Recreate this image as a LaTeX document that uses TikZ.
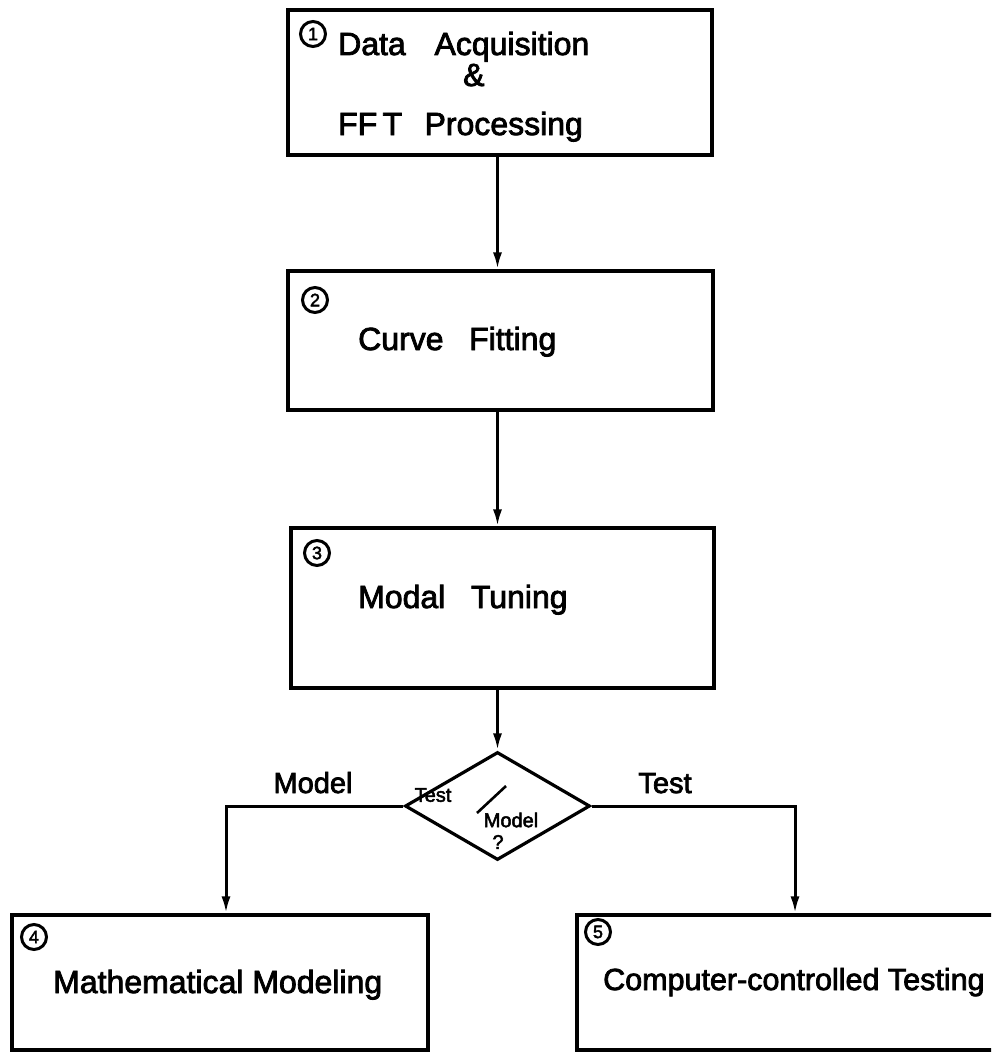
\documentclass[tikz,border=0pt]{standalone}
\usepackage{fontspec}
\setmainfont{Liberation Sans}[BoldFont={Liberation Sans},BoldFeatures={FakeBold=2.5}]
\usetikzlibrary{shapes.geometric,arrows.meta}
\begin{document}
\begin{tikzpicture}[x=1pt,y=-1pt,
  box/.style={draw,line width=3.2pt,inner sep=0pt},
  arr/.style={line width=3pt,-{Latex[length=17pt,width=9pt]}},
  lbl/.style={anchor=base west,inner sep=0pt,font=\fontsize{32}{36}\selectfont\bfseries},
  circ/.style={circle,draw,line width=3pt,minimum size=25pt,inner sep=0pt,font=\fontsize{18}{18}\selectfont\bfseries},
  small/.style={inner sep=0pt,font=\fontsize{20}{20}\selectfont\bfseries}]
\useasboundingbox (0,0) rectangle (991,1057);
\clip (0,0) rectangle (991,1057);
% boxes
\node[box,minimum width=424pt,minimum height=145pt] (b1) at (500,82.5) {};
\node[box,minimum width=425pt,minimum height=139pt] (b2) at (500.5,340.5) {};
\node[box,minimum width=423pt,minimum height=160pt] (b3) at (502.5,608) {};
\node[draw,shape=diamond,line width=3.2pt,inner sep=0pt,minimum width=185pt,minimum height=108pt] (d) at (497.5,806) {};
\node[box,minimum width=416pt,minimum height=135pt] (b4) at (220,982.5) {};
\node[box,minimum width=430pt,minimum height=135pt] (b5) at (792,982.5) {};
% circled numbers
\node[circ] (n1) at (313,34) {1};
\node[circ] (n2) at (315,300) {2};
\node[circ] (n3) at (317,553) {3};
\node[circ] (n4) at (34,937) {4};
\node[circ] (n5) at (598,932) {5};
% texts
\node[lbl] (t1a) at (338,55) {Data\hspace{0.9em}Acquisition};
\node[lbl] (t1b) at (463,86) {\&};
\node[lbl] (t1c) at (338,135) {FF\,T\hspace{0.7em}Processing};
\node[lbl] (t2) at (358,350) {Curve\hspace{0.8em}Fitting};
\node[lbl] (t3) at (358,608) {Modal\hspace{0.8em}Tuning};
\node[lbl] (t4) at (53,993) {Mathematical Modeling};
\node[lbl,font=\fontsize{30.5}{36}\selectfont\bfseries] (t5) at (603,990) {Computer-controlled Testing};
% diamond texts
\node[small] (dt) at (433,795) {Test};
\node[small] (dm) at (511,820) {Model};
\node[small] (dq) at (498,842) {?};
\coordinate (s1) at (477,813);
\coordinate (s2) at (506,786);
\draw[line width=2.6pt] (s1) -- (s2);
% branch labels
\node[lbl,anchor=base,font=\fontsize{29}{32}\selectfont\bfseries] (lm) at (313,793) {Model};
\node[lbl,anchor=base,font=\fontsize{29}{32}\selectfont\bfseries] (lt) at (665,793) {Test};
% connectors
\coordinate (lc) at (226,806);
\coordinate (rc) at (795,806);
\draw[arr] (b1.south -| d.north) -- (b2.north -| d.north);
\draw[arr] (b2.south -| d.north) -- (b3.north -| d.north);
\draw[arr] (b3.south -| d.north) -- (d.north);
\draw[arr] (d.west) -| (b4.north -| lc);
\draw[arr] (d.east) -| (b5.north -| rc);
\end{tikzpicture}
\end{document}
